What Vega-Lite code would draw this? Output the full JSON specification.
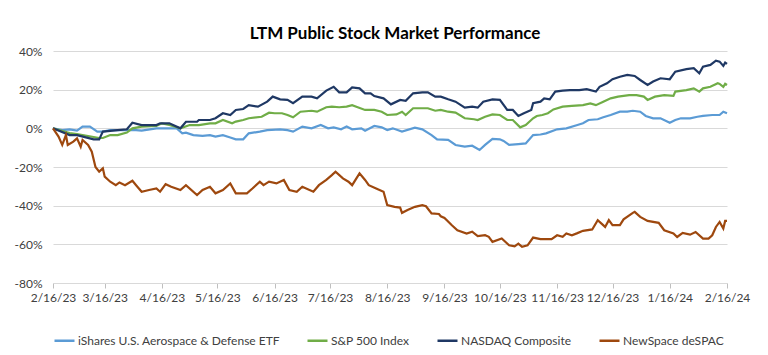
{
  "$schema": "https://vega.github.io/schema/vega-lite/v6.json",
  "width": 674,
  "height": 232,
  "autosize": {"type": "none"},
  "padding": {"left": 53, "top": 51, "right": 41, "bottom": 72},
  "background": "white",
  "title": {
    "text": "LTM Public Stock Market Performance",
    "font": "Lato",
    "fontSize": 17,
    "fontWeight": "bold",
    "color": "#000000",
    "anchor": "middle",
    "offset": 2,
    "dx": 5
  },
  "datasets": {
    "ishares": [
      {"date": "2023-02-16", "value": 0}, {"date": "2023-02-21", "value": -0.9}, {"date": "2023-02-25", "value": -0.5},
      {"date": "2023-03-01", "value": -1.2}, {"date": "2023-03-04", "value": 0.9}, {"date": "2023-03-08", "value": 0.9},
      {"date": "2023-03-12", "value": -1.7}, {"date": "2023-03-15", "value": -1.7}, {"date": "2023-03-19", "value": -0.9},
      {"date": "2023-03-23", "value": -0.9}, {"date": "2023-03-28", "value": -0.9}, {"date": "2023-04-02", "value": -0.9},
      {"date": "2023-04-05", "value": -1.2}, {"date": "2023-04-13", "value": 0}, {"date": "2023-04-18", "value": 0},
      {"date": "2023-04-24", "value": 0}, {"date": "2023-04-27", "value": -2.6}, {"date": "2023-04-29", "value": -2.2},
      {"date": "2023-05-03", "value": -3.5}, {"date": "2023-05-08", "value": -3.9}, {"date": "2023-05-12", "value": -3.5},
      {"date": "2023-05-15", "value": -4.3}, {"date": "2023-05-19", "value": -3.5}, {"date": "2023-05-23", "value": -4.7},
      {"date": "2023-05-26", "value": -5.7}, {"date": "2023-05-30", "value": -5.7}, {"date": "2023-06-02", "value": -2.6},
      {"date": "2023-06-08", "value": -1.7}, {"date": "2023-06-12", "value": -0.9}, {"date": "2023-06-19", "value": -0.5},
      {"date": "2023-06-23", "value": -0.9}, {"date": "2023-06-26", "value": -1.7}, {"date": "2023-07-01", "value": 0.9},
      {"date": "2023-07-06", "value": 0}, {"date": "2023-07-11", "value": 1.7}, {"date": "2023-07-15", "value": 0},
      {"date": "2023-07-18", "value": 0.5}, {"date": "2023-07-22", "value": -0.5}, {"date": "2023-07-25", "value": 0.9},
      {"date": "2023-07-28", "value": -0.5}, {"date": "2023-08-02", "value": 0}, {"date": "2023-08-04", "value": -1.2},
      {"date": "2023-08-09", "value": 1.2}, {"date": "2023-08-13", "value": 0.5}, {"date": "2023-08-16", "value": -0.9},
      {"date": "2023-08-19", "value": 0}, {"date": "2023-08-24", "value": -1.7}, {"date": "2023-08-31", "value": 0.3},
      {"date": "2023-09-04", "value": -0.5}, {"date": "2023-09-09", "value": -3.5}, {"date": "2023-09-12", "value": -5.7},
      {"date": "2023-09-18", "value": -6}, {"date": "2023-09-22", "value": -8.6}, {"date": "2023-09-27", "value": -9.5},
      {"date": "2023-10-01", "value": -9}, {"date": "2023-10-05", "value": -11.2}, {"date": "2023-10-08", "value": -8.6},
      {"date": "2023-10-12", "value": -5.5}, {"date": "2023-10-16", "value": -5.7}, {"date": "2023-10-18", "value": -6.5},
      {"date": "2023-10-21", "value": -8.6}, {"date": "2023-10-26", "value": -8.2}, {"date": "2023-10-30", "value": -7.8},
      {"date": "2023-11-03", "value": -3.5}, {"date": "2023-11-07", "value": -3.2}, {"date": "2023-11-10", "value": -2.6},
      {"date": "2023-11-16", "value": -0.5}, {"date": "2023-11-21", "value": 0}, {"date": "2023-11-27", "value": 1.7},
      {"date": "2023-11-30", "value": 2.6}, {"date": "2023-12-03", "value": 4.3}, {"date": "2023-12-08", "value": 4.7},
      {"date": "2023-12-11", "value": 5.7}, {"date": "2023-12-15", "value": 6.9}, {"date": "2023-12-20", "value": 8.6},
      {"date": "2023-12-24", "value": 8.6}, {"date": "2023-12-27", "value": 9.1}, {"date": "2023-12-31", "value": 8.6},
      {"date": "2024-01-03", "value": 6.4}, {"date": "2024-01-07", "value": 5.2}, {"date": "2024-01-11", "value": 5.2},
      {"date": "2024-01-16", "value": 2.9}, {"date": "2024-01-19", "value": 4.3}, {"date": "2024-01-22", "value": 5.2},
      {"date": "2024-01-27", "value": 5.2}, {"date": "2024-01-31", "value": 6}, {"date": "2024-02-03", "value": 6.4},
      {"date": "2024-02-08", "value": 6.9}, {"date": "2024-02-12", "value": 6.9}, {"date": "2024-02-14", "value": 8.6},
      {"date": "2024-02-16", "value": 7.8}
    ],
    "sp500": [
      {"date": "2023-02-16", "value": 0}, {"date": "2023-02-25", "value": -2.5}, {"date": "2023-03-01", "value": -3},
      {"date": "2023-03-10", "value": -4.5}, {"date": "2023-03-13", "value": -5}, {"date": "2023-03-15", "value": -5},
      {"date": "2023-03-19", "value": -3.5}, {"date": "2023-03-23", "value": -3.5}, {"date": "2023-03-28", "value": -2.2},
      {"date": "2023-03-31", "value": 0}, {"date": "2023-04-05", "value": 0.9}, {"date": "2023-04-13", "value": 1.2},
      {"date": "2023-04-16", "value": 2.6}, {"date": "2023-04-20", "value": 1.7}, {"date": "2023-04-26", "value": 0},
      {"date": "2023-05-01", "value": 1.7}, {"date": "2023-05-06", "value": 1.7}, {"date": "2023-05-12", "value": 2.6},
      {"date": "2023-05-15", "value": 2.6}, {"date": "2023-05-19", "value": 4.3}, {"date": "2023-05-24", "value": 2.6},
      {"date": "2023-05-26", "value": 3.5}, {"date": "2023-05-30", "value": 4.3}, {"date": "2023-06-02", "value": 5.2},
      {"date": "2023-06-09", "value": 6}, {"date": "2023-06-13", "value": 8.1}, {"date": "2023-06-16", "value": 7.8},
      {"date": "2023-06-20", "value": 7.8}, {"date": "2023-06-23", "value": 6.9}, {"date": "2023-06-26", "value": 5.7},
      {"date": "2023-06-30", "value": 8.6}, {"date": "2023-07-06", "value": 9.1}, {"date": "2023-07-09", "value": 8.6},
      {"date": "2023-07-14", "value": 10.9}, {"date": "2023-07-17", "value": 11.2}, {"date": "2023-07-21", "value": 10.9},
      {"date": "2023-07-25", "value": 11.2}, {"date": "2023-07-28", "value": 12}, {"date": "2023-07-31", "value": 10.9},
      {"date": "2023-08-04", "value": 9.5}, {"date": "2023-08-09", "value": 9.5}, {"date": "2023-08-13", "value": 8.6},
      {"date": "2023-08-16", "value": 6.9}, {"date": "2023-08-21", "value": 7.2}, {"date": "2023-08-24", "value": 8.6},
      {"date": "2023-08-26", "value": 6.9}, {"date": "2023-08-30", "value": 10.4}, {"date": "2023-09-07", "value": 10.4},
      {"date": "2023-09-11", "value": 9.1}, {"date": "2023-09-14", "value": 9.5}, {"date": "2023-09-18", "value": 8.6},
      {"date": "2023-09-22", "value": 8.1}, {"date": "2023-09-27", "value": 5.2}, {"date": "2023-10-02", "value": 4.7},
      {"date": "2023-10-04", "value": 4.3}, {"date": "2023-10-08", "value": 6}, {"date": "2023-10-12", "value": 7.2},
      {"date": "2023-10-16", "value": 6.9}, {"date": "2023-10-20", "value": 4.3}, {"date": "2023-10-23", "value": 4.3},
      {"date": "2023-10-27", "value": 0.5}, {"date": "2023-10-30", "value": 1.7}, {"date": "2023-11-03", "value": 5.2},
      {"date": "2023-11-05", "value": 6.4}, {"date": "2023-11-08", "value": 6.9}, {"date": "2023-11-11", "value": 7.8},
      {"date": "2023-11-14", "value": 9.8}, {"date": "2023-11-19", "value": 11.2}, {"date": "2023-11-24", "value": 11.6},
      {"date": "2023-11-30", "value": 12}, {"date": "2023-12-04", "value": 12.9}, {"date": "2023-12-07", "value": 12},
      {"date": "2023-12-11", "value": 13.8}, {"date": "2023-12-15", "value": 15.5}, {"date": "2023-12-19", "value": 16.4},
      {"date": "2023-12-25", "value": 17.2}, {"date": "2023-12-29", "value": 17.2}, {"date": "2024-01-02", "value": 16.4},
      {"date": "2024-01-04", "value": 14.7}, {"date": "2024-01-08", "value": 16.4}, {"date": "2024-01-13", "value": 17.2},
      {"date": "2024-01-18", "value": 16.8}, {"date": "2024-01-19", "value": 19}, {"date": "2024-01-25", "value": 19.8},
      {"date": "2024-01-29", "value": 20.7}, {"date": "2024-02-01", "value": 19}, {"date": "2024-02-03", "value": 20.7},
      {"date": "2024-02-07", "value": 21.5}, {"date": "2024-02-11", "value": 23.3}, {"date": "2024-02-12", "value": 23},
      {"date": "2024-02-14", "value": 21.5}, {"date": "2024-02-15", "value": 23}, {"date": "2024-02-16", "value": 22.4}
    ],
    "nasdaq": [
      {"date": "2023-02-16", "value": 0}, {"date": "2023-02-25", "value": -3.5}, {"date": "2023-03-01", "value": -3.5},
      {"date": "2023-03-10", "value": -5.7}, {"date": "2023-03-13", "value": -5.7}, {"date": "2023-03-15", "value": -1.7},
      {"date": "2023-03-23", "value": -0.9}, {"date": "2023-03-28", "value": -0.5}, {"date": "2023-03-31", "value": 2.9},
      {"date": "2023-04-05", "value": 1.7}, {"date": "2023-04-13", "value": 1.7}, {"date": "2023-04-15", "value": 2.6},
      {"date": "2023-04-20", "value": 2.6}, {"date": "2023-04-26", "value": 0}, {"date": "2023-04-29", "value": 3.4},
      {"date": "2023-05-05", "value": 3.4}, {"date": "2023-05-06", "value": 4.3}, {"date": "2023-05-12", "value": 4.3},
      {"date": "2023-05-15", "value": 5.2}, {"date": "2023-05-19", "value": 7.8}, {"date": "2023-05-23", "value": 6.9},
      {"date": "2023-05-26", "value": 9.5}, {"date": "2023-05-30", "value": 10}, {"date": "2023-06-02", "value": 12},
      {"date": "2023-06-07", "value": 11.2}, {"date": "2023-06-12", "value": 13.8}, {"date": "2023-06-15", "value": 16.4},
      {"date": "2023-06-19", "value": 15}, {"date": "2023-06-23", "value": 14.7}, {"date": "2023-06-26", "value": 13},
      {"date": "2023-07-01", "value": 16.4}, {"date": "2023-07-06", "value": 16.4}, {"date": "2023-07-09", "value": 15.5},
      {"date": "2023-07-14", "value": 19.5}, {"date": "2023-07-18", "value": 21.5}, {"date": "2023-07-21", "value": 18.6},
      {"date": "2023-07-25", "value": 18.6}, {"date": "2023-07-28", "value": 21.2}, {"date": "2023-08-01", "value": 20.7},
      {"date": "2023-08-04", "value": 18.1}, {"date": "2023-08-07", "value": 18.1}, {"date": "2023-08-09", "value": 16.7},
      {"date": "2023-08-14", "value": 15.5}, {"date": "2023-08-18", "value": 12.4}, {"date": "2023-08-23", "value": 14.7},
      {"date": "2023-08-26", "value": 14.2}, {"date": "2023-08-30", "value": 18.1}, {"date": "2023-09-04", "value": 18.6},
      {"date": "2023-09-07", "value": 18.6}, {"date": "2023-09-11", "value": 16.4}, {"date": "2023-09-14", "value": 16.4},
      {"date": "2023-09-18", "value": 15}, {"date": "2023-09-22", "value": 13.8}, {"date": "2023-09-27", "value": 10.7},
      {"date": "2023-10-01", "value": 11.2}, {"date": "2023-10-04", "value": 10.7}, {"date": "2023-10-07", "value": 13.8},
      {"date": "2023-10-12", "value": 15}, {"date": "2023-10-16", "value": 14.7}, {"date": "2023-10-20", "value": 9.5},
      {"date": "2023-10-23", "value": 9.5}, {"date": "2023-10-26", "value": 6.4}, {"date": "2023-10-29", "value": 7.8},
      {"date": "2023-11-02", "value": 9.5}, {"date": "2023-11-03", "value": 13}, {"date": "2023-11-07", "value": 13.8},
      {"date": "2023-11-09", "value": 15.5}, {"date": "2023-11-12", "value": 15}, {"date": "2023-11-15", "value": 19},
      {"date": "2023-11-19", "value": 19.5}, {"date": "2023-11-23", "value": 19.8}, {"date": "2023-11-28", "value": 19.8},
      {"date": "2023-12-02", "value": 20.3}, {"date": "2023-12-07", "value": 19}, {"date": "2023-12-09", "value": 21.5},
      {"date": "2023-12-13", "value": 23.3}, {"date": "2023-12-16", "value": 25.4}, {"date": "2023-12-20", "value": 26.7},
      {"date": "2023-12-24", "value": 27.6}, {"date": "2023-12-28", "value": 27.1}, {"date": "2023-12-31", "value": 25},
      {"date": "2024-01-04", "value": 22.4}, {"date": "2024-01-07", "value": 24.2}, {"date": "2024-01-11", "value": 25.9},
      {"date": "2024-01-16", "value": 25.4}, {"date": "2024-01-19", "value": 29.3}, {"date": "2024-01-25", "value": 30.6},
      {"date": "2024-01-29", "value": 31.1}, {"date": "2024-02-01", "value": 28.5}, {"date": "2024-02-03", "value": 31.9},
      {"date": "2024-02-07", "value": 32.8}, {"date": "2024-02-10", "value": 35}, {"date": "2024-02-12", "value": 34.5},
      {"date": "2024-02-14", "value": 32.3}, {"date": "2024-02-15", "value": 34}, {"date": "2024-02-16", "value": 33.3}
    ],
    "newspace": [
      {"date": "2023-02-16", "value": 0}, {"date": "2023-02-19", "value": -4.3}, {"date": "2023-02-21", "value": -8.6},
      {"date": "2023-02-23", "value": -3.5}, {"date": "2023-02-24", "value": -8.6}, {"date": "2023-02-27", "value": -6.9},
      {"date": "2023-03-01", "value": -5.2}, {"date": "2023-03-03", "value": -9.5}, {"date": "2023-03-04", "value": -6},
      {"date": "2023-03-07", "value": -8.6}, {"date": "2023-03-09", "value": -12.1}, {"date": "2023-03-11", "value": -20},
      {"date": "2023-03-13", "value": -22.4}, {"date": "2023-03-15", "value": -20.7}, {"date": "2023-03-16", "value": -25},
      {"date": "2023-03-19", "value": -27.6}, {"date": "2023-03-22", "value": -29.4}, {"date": "2023-03-24", "value": -28},
      {"date": "2023-03-27", "value": -29.4}, {"date": "2023-03-31", "value": -27.1}, {"date": "2023-04-02", "value": -29.4},
      {"date": "2023-04-05", "value": -32.8}, {"date": "2023-04-09", "value": -31.9}, {"date": "2023-04-13", "value": -31.1},
      {"date": "2023-04-15", "value": -32.8}, {"date": "2023-04-18", "value": -28.9}, {"date": "2023-04-21", "value": -30.2},
      {"date": "2023-04-26", "value": -31.9}, {"date": "2023-04-29", "value": -29.4}, {"date": "2023-05-05", "value": -34.5},
      {"date": "2023-05-08", "value": -31.9}, {"date": "2023-05-12", "value": -30.2}, {"date": "2023-05-15", "value": -33.6},
      {"date": "2023-05-19", "value": -31.9}, {"date": "2023-05-23", "value": -28.5}, {"date": "2023-05-26", "value": -33.6},
      {"date": "2023-06-01", "value": -33.6}, {"date": "2023-06-04", "value": -31.1}, {"date": "2023-06-08", "value": -27.6},
      {"date": "2023-06-10", "value": -29.4}, {"date": "2023-06-13", "value": -27.6}, {"date": "2023-06-17", "value": -28.5},
      {"date": "2023-06-21", "value": -26.7}, {"date": "2023-06-24", "value": -31.9}, {"date": "2023-06-28", "value": -32.8},
      {"date": "2023-07-01", "value": -30.2}, {"date": "2023-07-07", "value": -32.8}, {"date": "2023-07-10", "value": -29.4},
      {"date": "2023-07-14", "value": -26.7}, {"date": "2023-07-17", "value": -24.2}, {"date": "2023-07-19", "value": -22.4},
      {"date": "2023-07-23", "value": -25.9}, {"date": "2023-07-26", "value": -27.6}, {"date": "2023-07-28", "value": -29.4},
      {"date": "2023-08-01", "value": -23.3}, {"date": "2023-08-04", "value": -26.7}, {"date": "2023-08-06", "value": -29.4},
      {"date": "2023-08-10", "value": -31.1}, {"date": "2023-08-14", "value": -32.8}, {"date": "2023-08-16", "value": -39.7},
      {"date": "2023-08-20", "value": -40.6}, {"date": "2023-08-23", "value": -41}, {"date": "2023-08-24", "value": -43.7},
      {"date": "2023-08-27", "value": -42.2}, {"date": "2023-08-31", "value": -40.6}, {"date": "2023-09-04", "value": -39.7},
      {"date": "2023-09-06", "value": -40.3}, {"date": "2023-09-09", "value": -44}, {"date": "2023-09-13", "value": -44.3},
      {"date": "2023-09-14", "value": -45.5}, {"date": "2023-09-16", "value": -46.4}, {"date": "2023-09-20", "value": -50.1},
      {"date": "2023-09-23", "value": -52.7}, {"date": "2023-09-28", "value": -54.4}, {"date": "2023-10-01", "value": -53.5},
      {"date": "2023-10-04", "value": -55.8}, {"date": "2023-10-08", "value": -55.3}, {"date": "2023-10-10", "value": -56.1},
      {"date": "2023-10-12", "value": -58.7}, {"date": "2023-10-17", "value": -57}, {"date": "2023-10-21", "value": -60.5},
      {"date": "2023-10-24", "value": -61}, {"date": "2023-10-26", "value": -59.6}, {"date": "2023-10-28", "value": -61.3},
      {"date": "2023-10-31", "value": -60.5}, {"date": "2023-11-03", "value": -56.5}, {"date": "2023-11-07", "value": -57.3},
      {"date": "2023-11-09", "value": -57.3}, {"date": "2023-11-13", "value": -57.3}, {"date": "2023-11-16", "value": -55.3},
      {"date": "2023-11-19", "value": -56.1}, {"date": "2023-11-21", "value": -54.4}, {"date": "2023-11-24", "value": -55.3},
      {"date": "2023-11-27", "value": -54.2}, {"date": "2023-11-30", "value": -53}, {"date": "2023-12-05", "value": -52.3},
      {"date": "2023-12-08", "value": -47.5}, {"date": "2023-12-12", "value": -51}, {"date": "2023-12-14", "value": -47.5},
      {"date": "2023-12-16", "value": -50.1}, {"date": "2023-12-20", "value": -50.1}, {"date": "2023-12-22", "value": -47.1},
      {"date": "2023-12-27", "value": -43.7}, {"date": "2023-12-28", "value": -43.2}, {"date": "2023-12-31", "value": -45.8},
      {"date": "2024-01-04", "value": -47.9}, {"date": "2024-01-10", "value": -48.9}, {"date": "2024-01-13", "value": -52.7},
      {"date": "2024-01-18", "value": -54.4}, {"date": "2024-01-20", "value": -56.2}, {"date": "2024-01-23", "value": -54.1},
      {"date": "2024-01-27", "value": -55}, {"date": "2024-01-30", "value": -53.6}, {"date": "2024-02-03", "value": -57},
      {"date": "2024-02-06", "value": -57}, {"date": "2024-02-08", "value": -55.3}, {"date": "2024-02-10", "value": -51},
      {"date": "2024-02-12", "value": -48.4}, {"date": "2024-02-14", "value": -51.8}, {"date": "2024-02-15", "value": -47.9},
      {"date": "2024-02-16", "value": -47.9}
    ]
  },
  "encoding": {
    "x": {
      "field": "date",
      "type": "temporal",
      "scale": {"type": "utc", "domain": [{"year": 2023, "month": 2, "date": 16, "utc": true}, {"year": 2024, "month": 2, "date": 16, "utc": true}], "nice": false},
      "axis": {
        "title": null,
        "grid": false,
        "values": [
          {"year": 2023, "month": 2, "date": 16, "utc": true}, {"year": 2023, "month": 3, "date": 16, "utc": true},
          {"year": 2023, "month": 4, "date": 16, "utc": true}, {"year": 2023, "month": 5, "date": 16, "utc": true},
          {"year": 2023, "month": 6, "date": 16, "utc": true}, {"year": 2023, "month": 7, "date": 16, "utc": true},
          {"year": 2023, "month": 8, "date": 16, "utc": true}, {"year": 2023, "month": 9, "date": 16, "utc": true},
          {"year": 2023, "month": 10, "date": 16, "utc": true}, {"year": 2023, "month": 11, "date": 16, "utc": true},
          {"year": 2023, "month": 12, "date": 16, "utc": true}, {"year": 2024, "month": 1, "date": 16, "utc": true},
          {"year": 2024, "month": 2, "date": 16, "utc": true}
        ],
        "labelExpr": "utcFormat(datum.value, '%-m/%-d/%y')",
        "labelFont": "Lato",
        "labelFontSize": 12,
        "labelColor": "#404040",
        "labelPadding": 4,
        "labelFlush": false,
        "labelOverlap": false,
        "domainColor": "#D9D9D9",
        "tickColor": "#BFBFBF",
        "tickSize": 5
      }
    },
    "y": {
      "field": "value",
      "type": "quantitative",
      "scale": {"domain": [-80, 40], "nice": false},
      "axis": {
        "title": null,
        "values": [-80, -60, -40, -20, 0, 20, 40],
        "labelExpr": "datum.value + '%'",
        "labelFont": "Lato",
        "labelFontSize": 12,
        "labelColor": "#404040",
        "labelPadding": 11,
        "domain": false,
        "ticks": false,
        "gridColor": "#D9D9D9",
        "gridWidth": 1
      }
    },
    "color": {
      "scale": {
        "domain": ["iShares U.S. Aerospace & Defense ETF", "S&P 500 Index", "NASDAQ Composite", "NewSpace deSPAC"],
        "range": ["#5B9BD5", "#70AD47", "#1F3864", "#9E480E"]
      },
      "legend": {
        "title": null,
        "orient": "bottom",
        "direction": "horizontal",
        "symbolType": "stroke",
        "symbolSize": 400,
        "symbolStrokeWidth": 2.5,
        "labelFont": "Lato",
        "labelFontSize": 12,
        "labelColor": "#404040",
        "labelLimit": 0,
        "labelOffset": 2,
        "columnPadding": 22,
        "offset": 26
      }
    }
  },
  "layer": [
    {"data": {"name": "ishares"}, "mark": {"type": "line", "strokeWidth": 2.2}, "encoding": {"color": {"datum": "iShares U.S. Aerospace & Defense ETF"}}},
    {"data": {"name": "sp500"}, "mark": {"type": "line", "strokeWidth": 2.2}, "encoding": {"color": {"datum": "S&P 500 Index"}}},
    {"data": {"name": "nasdaq"}, "mark": {"type": "line", "strokeWidth": 2.2}, "encoding": {"color": {"datum": "NASDAQ Composite"}}},
    {"data": {"name": "newspace"}, "mark": {"type": "line", "strokeWidth": 2.2}, "encoding": {"color": {"datum": "NewSpace deSPAC"}}}
  ],
  "config": {
    "view": {"stroke": null},
    "font": "Lato"
  }
}
